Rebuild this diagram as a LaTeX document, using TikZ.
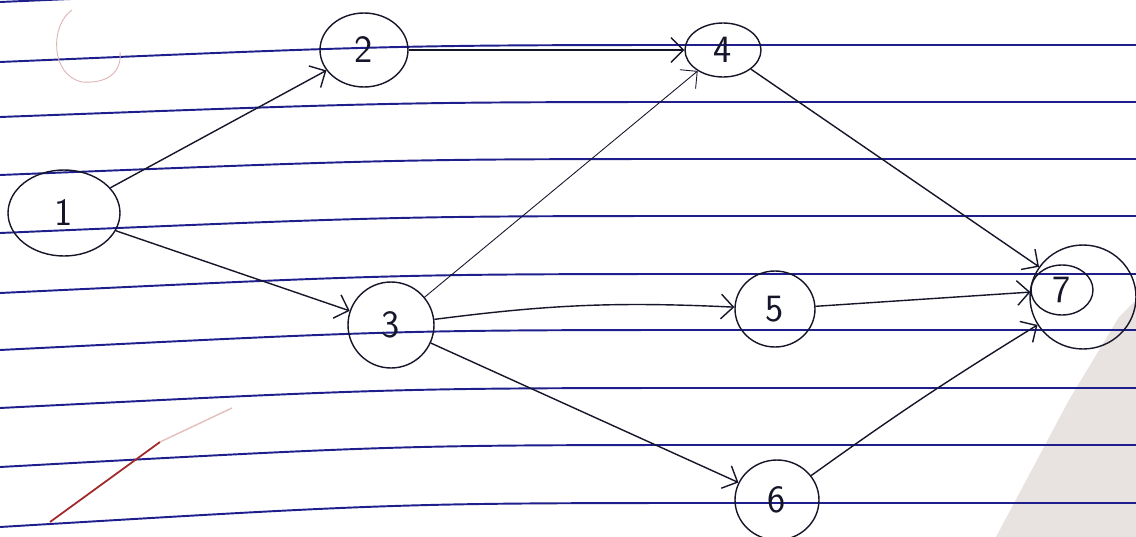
\documentclass[tikz,border=0pt]{standalone}
\usepackage{xcolor}
\usepackage{tikz}
\usetikzlibrary{shapes.geometric, arrows.meta, positioning, calc}
\definecolor{ruleblue}{HTML}{1E1E8C}
\definecolor{penink}{HTML}{16162A}
\definecolor{foldgray}{HTML}{E8E2E1}
\definecolor{penred}{HTML}{A0282A}

\begin{document}
\begin{tikzpicture}[x=0.02cm, y=-0.02cm,
        vertex/.style={draw=penink, ellipse, line width=0.8pt, inner sep=0pt, text=penink, font=\sffamily\fontsize{22}{24}\selectfont},
        ruled/.style={ruleblue, line width=1.1pt},
        arrow/.style={-{Straight Barb[length=7pt, width=14pt]}, line width=0.8pt, penink}
    ]
        \useasboundingbox (0,0) rectangle (1136,537);
        \fill [white] (0,0) rectangle (1136,537);
        \fill [foldgray] (1136,300) -- (1119,317) -- (1069,400) -- (996,537) -- (1136,537) -- cycle;
        \foreach \y/\d in {2/17, 62/17, 117/15, 175/16, 233/17, 293/19, 350/20, 408/20, 467/22, 527/24}
            \draw [ruled] (0,\y) .. controls (400,{\y-\d}) .. (750,{\y-\d}) -- (1136,{\y-\d});
        % stray marks on the page
        \draw [penred!35, line width=0.5pt] (72,10) .. controls (50,25) and (50,75) .. (82,82) .. controls (110,84) and (122,70) .. (120,52);
        \draw [penred, line width=1pt] (50,522) -- (160,442);
        \draw [penred!30, line width=0.8pt] (160,442) -- (232,408);

        \node (n1) [vertex, minimum width=2.24cm, minimum height=1.72cm] at (64,213) {1};
        \node (n2) [vertex, minimum width=1.76cm, minimum height=1.48cm] at (364,50) {2};
        \node (n4) [vertex, minimum width=1.52cm, minimum height=1.08cm] at (723,50) {4};
        \node (n3) [vertex, minimum width=1.72cm, minimum height=1.72cm] at (391,325) {3};
        \node (n5) [vertex, minimum width=1.60cm, minimum height=1.52cm] at (775,309) {5};
        \node (n6) [vertex, minimum width=1.68cm, minimum height=1.60cm] at (777,500) {6};
        \node (n7) [vertex, minimum width=1.24cm, minimum height=1.00cm] at (1062,290) {7};
        \node (n7ring) [vertex, minimum width=2.12cm, minimum height=2.08cm] at (1083,297) {};

        \draw [arrow] (n1) -- (n2);
        \draw [arrow] (n1) -- (n3);
        \draw [arrow] (n2) -- (n4);
        \draw [arrow, line width=0.5pt] (n3) -- (n4);
        \draw [arrow] (n3) to[bend left=5] (n5);
        \draw [arrow] (n3) -- (n6);
        \draw [arrow] (n4) -- (n7ring);
        \draw [arrow] (n5) -- (n7);
        \draw [arrow] (n6) to[bend left=2] (n7ring);
    \end{tikzpicture}
\end{document}
